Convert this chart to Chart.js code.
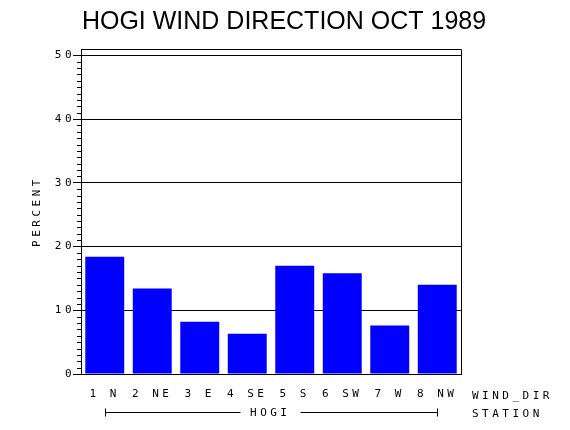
<!DOCTYPE html>
<html lang="en">
<head>
  <meta charset="UTF-8">
  <title>HOGI Wind Direction</title>
  <style>
    body { margin: 0; background: #fff; }
  </style>
</head>
<body>
  <canvas id="windChart" width="570" height="430"></canvas>
  <script src="https://cdn.jsdelivr.net/npm/chart.js"></script>
  <script>
    // values
    const categories = ['1 N', '2 NE', '3 E', '4 SE', '5 S', '6 SW', '7 W', '8 NW'];
    const percent = [18.4, 13.4, 8.2, 6.3, 17.0, 15.8, 7.6, 14.0];
    const yTicks = [0, 10, 20, 30, 40, 50];
    const yMinorTicks = [];
    for (let v = 1; v < 50; v++) if (v % 10 !== 0) yMinorTicks.push(v);
    const yMax = 51;

    const titleText = 'HOGI WIND DIRECTION OCT 1989';
    const yTitle = 'PERCENT';
    const xName = 'WIND_DIR';
    const groupName = 'HOGI';
    const groupAxisName = 'STATION';

    const monoFont = { family: '"DejaVu Sans Mono", monospace', size: 11 };
    const spacing = '3.5px';

    Chart.defaults.color = '#000';

    // spaced-out plotter lettering, plus the bits around the axes
    const extras = {
      id: 'extras',
      beforeDraw(chart) {
        chart.ctx.letterSpacing = spacing;
      },
      afterDraw(chart) {
        const ctx = chart.ctx;
        const area = chart.chartArea;
        const x = chart.scales.x;
        const y = chart.scales.y;
        ctx.save();
        ctx.strokeStyle = '#000';
        ctx.lineWidth = 1;

        // frame top and right
        ctx.beginPath();
        ctx.moveTo(Math.round(area.left) + 0.5, Math.round(area.top) + 0.5);
        ctx.lineTo(Math.round(area.right) + 0.5, Math.round(area.top) + 0.5);
        ctx.lineTo(Math.round(area.right) + 0.5, Math.round(area.bottom) + 0.5);
        ctx.stroke();

        // minor ticks on the y axis
        ctx.beginPath();
        yMinorTicks.forEach(v => {
          const py = Math.round(y.getPixelForValue(v)) + 0.5;
          ctx.moveTo(y.right - 4, py);
          ctx.lineTo(y.right, py);
        });
        ctx.stroke();

        // title
        ctx.letterSpacing = '0px';
        ctx.fillStyle = '#000';
        ctx.font = '25px "Liberation Sans", Arial, sans-serif';
        ctx.textAlign = 'center';
        ctx.textBaseline = 'alphabetic';
        ctx.fillText(titleText, 284, 29);

        // axis names and station bracket
        ctx.letterSpacing = spacing;
        ctx.font = '11px ' + monoFont.family;
        ctx.textAlign = 'left';
        ctx.textBaseline = 'middle';
        ctx.fillText(xName, 472, 396);
        ctx.fillText(groupAxisName, 472, 414);

        const x0 = Math.round(x.getPixelForValue(0)) + 0.5;
        const x1 = Math.round(x.getPixelForValue(categories.length - 1)) + 0.5;
        const by = 412.5;
        const c = (x0 + x1) / 2 - 3;
        ctx.textAlign = 'center';
        ctx.fillText(groupName, c + 1.75, 413);
        ctx.beginPath();
        ctx.moveTo(x0, by - 4); ctx.lineTo(x0, by + 4);
        ctx.moveTo(x1, by - 4); ctx.lineTo(x1, by + 4);
        ctx.moveTo(x0, by); ctx.lineTo(c - 28, by);
        ctx.moveTo(c + 32, by); ctx.lineTo(x1, by);
        ctx.stroke();
        ctx.restore();
      }
    };

    const ctx = document.getElementById('windChart').getContext('2d');
    new Chart(ctx, {
      type: 'bar',
      data: {
        labels: categories,
        datasets: [{
          label: 'Percent',
          data: percent,
          backgroundColor: '#0000ff',
          borderWidth: 0,
          categoryPercentage: 1.0,
          barPercentage: 0.82
        }]
      },
      options: {
        responsive: false,
        animation: false,
        layout: { padding: { top: 49, right: 109, bottom: 0, left: 0 } },
        plugins: {
          legend: { display: false },
          title: { display: false },
          tooltip: { enabled: false }
        },
        scales: {
          x: {
            afterFit: s => { s.height = 56; },
            grid: { display: false, drawTicks: false },
            border: { display: true, color: '#000', width: 1 },
            ticks: { font: monoFont, padding: 14, autoSkip: false, maxRotation: 0 }
          },
          y: {
            min: 0,
            max: yMax,
            afterFit: s => { s.width = 81; },
            afterBuildTicks: s => { s.ticks = yTicks.map(v => ({ value: v })); },
            grid: { color: '#000', lineWidth: 1, tickLength: 8, tickColor: '#000' },
            border: { display: true, color: '#000', width: 1 },
            ticks: { font: monoFont, padding: -2 },
            title: { display: true, text: yTitle, font: monoFont, padding: { top: 31 } }
          }
        }
      },
      plugins: [extras]
    });
  </script>
</body>
</html>
